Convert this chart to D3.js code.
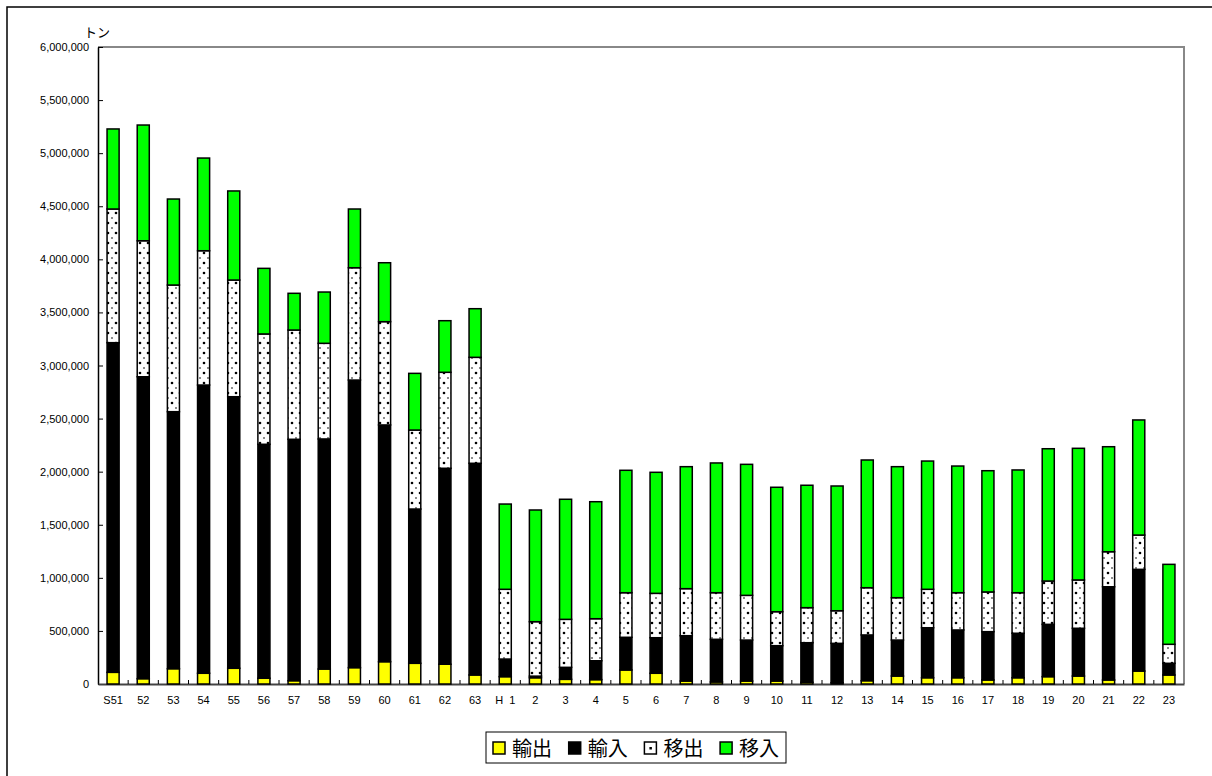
<!DOCTYPE html>
<html lang="ja">
<head>
    <meta charset="UTF-8">
    <script src="https://d3js.org/d3.v7.min.js"></script>
    <title>輸出・輸入・移出・移入</title>
    <style>
        body { margin: 0; background: #fff; }
        svg { display: block; }
    </style>
</head>
<body>
<script>
    // 年度ラベル
    var categories = ["S51", "52", "53", "54", "55", "56", "57", "58", "59", "60", "61", "62", "63",
        "H\u00a0\u00a01", "2", "3", "4", "5", "6", "7", "8", "9", "10", "11", "12", "13", "14", "15",
        "16", "17", "18", "19", "20", "21", "22", "23"];

    // 輸出 (トン)
    var exportT = [110000, 50000, 144000, 101000, 148000, 54000, 31000, 141000, 154000, 210000, 195000, 186000, 85000,
        69000, 59000, 44000, 41000, 132000, 101000, 28000, 19000, 28000, 28000, 16000, 12000, 31000, 75000, 59000,
        59000, 38000, 59000, 69000, 75000, 38000, 122000, 85000];
    // 輸入
    var importT = [3105000, 2844000, 2421000, 2715000, 2558000, 2204000, 2274000, 2167000, 2709000, 2230000, 1453000, 1846000, 1994000,
        166000, 15000, 113000, 178000, 308000, 335000, 427000, 402000, 386000, 333000, 373000, 371000, 431000, 339000, 471000,
        450000, 455000, 419000, 493000, 450000, 878000, 958000, 110000];
    // 移出
    var outT = [1259000, 1281000, 1193000, 1265000, 1099000, 1039000, 1029000, 901000, 1058000, 973000, 744000, 904000, 998000,
        657000, 513000, 452000, 396000, 420000, 418000, 443000, 439000, 421000, 320000, 330000, 307000, 445000, 399000, 362000,
        351000, 374000, 382000, 408000, 455000, 330000, 323000, 179000];
    // 移入
    var inT = [754000, 1090000, 810000, 873000, 839000, 618000, 346000, 483000, 553000, 555000, 534000, 486000, 458000,
        803000, 1052000, 1131000, 1102000, 1153000, 1140000, 1149000, 1222000, 1234000, 1172000, 1153000, 1175000, 1203000, 1234000, 1208000,
        1193000, 1142000, 1156000, 1246000, 1240000, 989000, 1084000, 753000];

    var seriesNames = ["輸出", "輸入", "移出", "移入"];
    var yTicks = d3.range(0, 6000001, 500000);

    var width = 1212, height = 776;
    var plotLeft = 98, plotRight = 1184, plotTop = 47, plotBottom = 684;

    var svg = d3.select("body").append("svg")
        .attr("width", width)
        .attr("height", height);

    // 移出の点模様
    var defs = svg.append("defs");
    var pat = defs.append("pattern")
        .attr("id", "dots")
        .attr("patternUnits", "userSpaceOnUse")
        .attr("width", 8).attr("height", 10);
    pat.append("rect").attr("width", 8).attr("height", 10).attr("fill", "#fff");
    pat.append("circle").attr("cx", 4).attr("cy", 3).attr("r", 1.3).attr("fill", "#000");
    pat.append("circle").attr("cx", 0).attr("cy", 8).attr("r", 1).attr("fill", "#666");
    pat.append("circle").attr("cx", 8).attr("cy", 8).attr("r", 1).attr("fill", "#666");

    var colors = ["#ffff00", "#000000", "url(#dots)", "#00ff00"];

    // 外枠
    svg.append("rect")
        .attr("x", 7).attr("y", 7)
        .attr("width", 1300).attr("height", 900)
        .attr("fill", "none").attr("stroke", "#000").attr("stroke-width", 1.5);

    var table = categories.map(function (c, i) {
        return { cat: c, "輸出": exportT[i], "輸入": importT[i], "移出": outT[i], "移入": inT[i] };
    });
    var stacked = d3.stack().keys(seriesNames)(table);

    var x = d3.scaleBand()
        .domain(categories)
        .range([plotLeft, plotRight])
        .paddingInner(0.6)
        .paddingOuter(0.3);

    var y = d3.scaleLinear()
        .domain([0, 6000000])
        .range([plotBottom, plotTop]);

    // プロットエリアの枠 (上・右)
    svg.append("path")
        .attr("d", "M" + plotLeft + "," + plotTop + "H" + plotRight + "V" + plotBottom)
        .attr("fill", "none").attr("stroke", "#888").attr("stroke-width", 2);

    // Y軸
    var yAxis = svg.append("g")
        .attr("transform", "translate(" + plotLeft + ",0)")
        .call(d3.axisLeft(y).tickValues(yTicks).tickSizeInner(-5).tickSizeOuter(0)
            .tickPadding(9).tickFormat(d3.format(",")));
    yAxis.select(".domain").attr("stroke", "#000").attr("stroke-width", 1.5);
    yAxis.selectAll("text").attr("font-family", "'Liberation Sans', Arial, sans-serif")
        .attr("font-size", 11).attr("fill", "#000");

    // X軸
    var step = x.step();
    var xAxis = svg.append("g")
        .attr("transform", "translate(0," + plotBottom + ")")
        .call(d3.axisBottom(x).tickSize(0).tickPadding(12));
    xAxis.select(".domain").attr("stroke", "#444").attr("stroke-width", 2);
    xAxis.selectAll("text").attr("font-family", "'Liberation Sans', Arial, sans-serif")
        .attr("font-size", 11).attr("fill", "#000");
    // 区切り目盛 (内向き)
    xAxis.selectAll(".sep")
        .data(categories.slice(1))
        .join("line")
        .attr("class", "sep")
        .attr("x1", function (d) { return x(d) - (step - x.bandwidth()) / 2; })
        .attr("x2", function (d) { return x(d) - (step - x.bandwidth()) / 2; })
        .attr("y1", 0).attr("y2", -4)
        .attr("stroke", "#000").attr("stroke-width", 1);

    // 積み上げ棒
    svg.append("g").selectAll("g")
        .data(stacked)
        .join("g")
        .attr("fill", function (d, i) { return colors[i]; })
        .selectAll("rect")
        .data(function (d) { return d; })
        .join("rect")
        .attr("x", function (d) { return x(d.data.cat); })
        .attr("y", function (d) { return y(d[1]); })
        .attr("width", x.bandwidth())
        .attr("height", function (d) { return y(d[0]) - y(d[1]); })
        .attr("stroke", "#000")
        .attr("stroke-width", 1.5);

    // 単位
    svg.append("text")
        .attr("x", 84).attr("y", 37)
        .attr("font-family", "'Noto Sans CJK JP', sans-serif")
        .attr("font-size", 13)
        .text("トン");

    // 凡例
    var legend = svg.append("g");
    legend.append("rect")
        .attr("x", 486).attr("y", 732)
        .attr("width", 300).attr("height", 31)
        .attr("fill", "#fff").attr("stroke", "#000").attr("stroke-width", 1);
    var items = legend.selectAll(".item")
        .data(seriesNames)
        .join("g")
        .attr("class", "item")
        .attr("transform", function (d, i) { return "translate(" + (493 + i * 75.7) + ",0)"; });
    items.append("rect")
        .attr("x", 0).attr("y", 742)
        .attr("width", 12).attr("height", 12)
        .attr("fill", function (d, i) { return i === 2 ? "#fff" : colors[i]; })
        .attr("stroke", "#000").attr("stroke-width", 1.5);
    items.filter(function (d, i) { return i === 2; })
        .append("rect")
        .attr("x", 5).attr("y", 747).attr("width", 2.5).attr("height", 2.5).attr("fill", "#000");
    items.append("text")
        .attr("x", 19).attr("y", 756)
        .attr("font-family", "'Noto Sans CJK JP', sans-serif")
        .attr("font-size", 20)
        .text(function (d) { return d; });
</script>
</body>
</html>
